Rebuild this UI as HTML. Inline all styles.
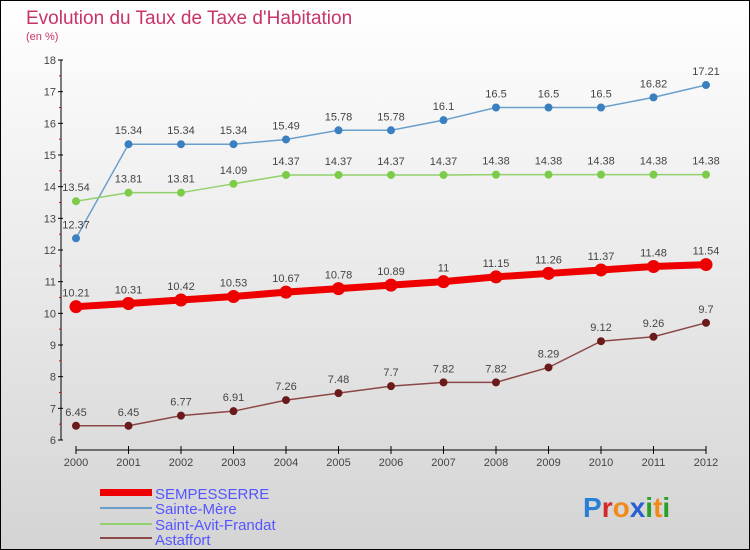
<!DOCTYPE html>
<html><head><meta charset="utf-8"><style>
html,body{margin:0;padding:0}
body{width:750px;height:550px;overflow:hidden;font-family:"Liberation Sans",sans-serif}
</style></head><body>
<svg width="750" height="550" xmlns="http://www.w3.org/2000/svg" style="display:block">
<defs><linearGradient id="bg" x1="0" y1="0" x2="0" y2="1"><stop offset="0" stop-color="#ffffff"/><stop offset="1" stop-color="#d4d4d4"/></linearGradient></defs>
<rect x="0.5" y="0.5" width="749" height="549" fill="url(#bg)" stroke="#000"/>
<text x="26" y="24" font-size="19" fill="#c8336a">Evolution du Taux de Taxe d'Habitation</text>
<text x="26" y="40" font-size="11" fill="#c8336a">(en %)</text>
<g id="axes"></g>
<g id="series"></g>
<g>
<rect x="100" y="489" width="52" height="7" fill="#e00"/>
<text x="155" y="499" font-size="15" fill="#5555ff">SEMPESSERRE</text>
<line x1="100" y1="508" x2="152" y2="508" stroke="#6a9fcc" stroke-width="2"/>
<text x="155" y="514" font-size="15" fill="#5555ff">Sainte-Mère</text>
<line x1="100" y1="524" x2="152" y2="524" stroke="#8fd16a" stroke-width="2"/>
<text x="155" y="530" font-size="15" fill="#5555ff">Saint-Avit-Frandat</text>
<line x1="100" y1="538" x2="152" y2="538" stroke="#8a4848" stroke-width="2"/>
<text x="155" y="545" font-size="15" fill="#5555ff">Astaffort</text>
</g>
<g font-size="28" font-weight="bold">
<text x="583" y="517"><tspan fill="#2a7fd4">P</tspan><tspan fill="#d42a2a">r</tspan><tspan fill="#f08a1a">o</tspan><tspan fill="#2a5fd4">x</tspan><tspan fill="#2aa02a">i</tspan><tspan fill="#f08a1a">t</tspan><tspan fill="#2aa02a">i</tspan></text>
</g>
</svg>
<script>
const years=[2000,2001,2002,2003,2004,2005,2006,2007,2008,2009,2010,2011,2012];
const sempesserre=[10.21,10.31,10.42,10.53,10.67,10.78,10.89,11,11.15,11.26,11.37,11.48,11.54];
const sainteMere=[12.37,15.34,15.34,15.34,15.49,15.78,15.78,16.1,16.5,16.5,16.5,16.82,17.21];
const saintAvit=[13.54,13.81,13.81,14.09,14.37,14.37,14.37,14.37,14.38,14.38,14.38,14.38,14.38];
const astaffort=[6.45,6.45,6.77,6.91,7.26,7.48,7.7,7.82,7.82,8.29,9.12,9.26,9.7];
const yTicks=[6,7,8,9,10,11,12,13,14,15,16,17,18];
const NS="http://www.w3.org/2000/svg";
function X(i){return 76+i*52.5;}
function Y(v){return 440-(v-6)*(380/12);}
function mk(tag,attrs,parent){const e=document.createElementNS(NS,tag);for(const k in attrs)e.setAttribute(k,attrs[k]);parent.appendChild(e);return e;}
const ax=document.getElementById('axes');
let yl=mk('line',{x1:61,y1:Y(18),x2:61,y2:Y(6),stroke:'#000','stroke-width':1},ax);


let xl=mk('line',{x1:76,y1:450,x2:706,y2:450,stroke:'#000','stroke-width':1},ax);


yTicks.forEach((t,i)=>{
  mk('line',{x1:58,y1:Y(t),x2:63,y2:Y(t),stroke:'#000'},ax);
  if(i<yTicks.length-1)mk('line',{x1:59,y1:Y(t+0.5),x2:61,y2:Y(t+0.5),stroke:'#e00'},ax);
  const tx=mk('text',{x:56,y:Y(t)+4,'text-anchor':'end','font-size':11,fill:'#444'},ax);
  tx.textContent=t;
  
  
});
years.forEach((y,i)=>{
  mk('line',{x1:X(i),y1:446,x2:X(i),y2:454,stroke:'#000'},ax);
  const tx=mk('text',{x:X(i),y:466,'text-anchor':'middle','font-size':11,fill:'#444'},ax);
  tx.textContent=y;
  
  
});
const sg=document.getElementById('series');
function draw(vals,color,w,r,name,dotColor){
  const g=mk('g',{},sg);
  
  
  mk('polyline',{points:vals.map((v,i)=>X(i)+','+Y(v)).join(' '),fill:'none',stroke:color,'stroke-width':w},g);
  vals.forEach((v,i)=>{
    const c=mk('circle',{cx:X(i),cy:Y(v),r:r,fill:dotColor,stroke:dotColor},g);
    
    
    const t=mk('text',{x:X(i),y:Y(v)-10,'text-anchor':'middle','font-size':11,fill:'#444'},g);
    t.textContent=v;
  });
}
draw(sainteMere,'#6a9fcc',1.5,3.5,'series-sainte-mere','#3a80c0');
draw(saintAvit,'#8fd16a',1.5,3.5,'series-saint-avit-frandat','#7ccc4a');
draw(astaffort,'#8a4848',1.5,3.5,'series-astaffort','#6a1a1a');
draw(sempesserre,'#ee0000',7,6,'series-sempesserre','#ee0000');
</script>
</body></html>
